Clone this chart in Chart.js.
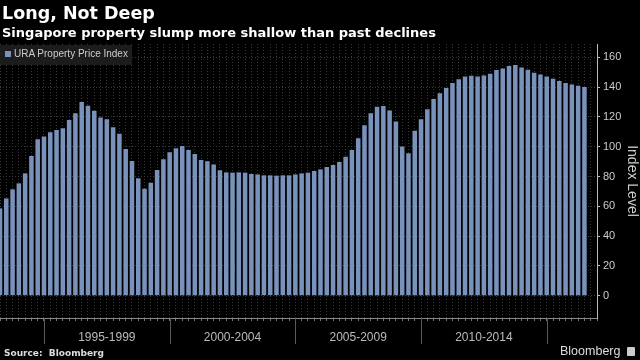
<!DOCTYPE html>
<html>
<head>
<meta charset="utf-8">
<script src="https://cdn.jsdelivr.net/npm/chart.js@4/dist/chart.umd.min.js"></script>
<style>
  body { margin: 0; background: #000; }
  #wrap { position: relative; width: 640px; height: 360px; background: #000; overflow: hidden; }
  #wrap canvas { position: absolute; left: 0; top: 0; }
  .txt { position: absolute; white-space: nowrap; color: #fff; }
  #title { left: 2px; top: 4.5px; font: bold 17.5px/17.5px "DejaVu Sans", sans-serif; }
  #subtitle { left: 2px; top: 25.7px; font: bold 13px/13px "DejaVu Sans", sans-serif; }
  #legend { position: absolute; left: 0; top: 45px; width: 132px; height: 20px; background: #1c1c1c; }
  #legend .sw { position: absolute; left: 5px; top: 6px; width: 6px; height: 6px; background: #7892bb; }
  #legend .lab { left: 14px; top: 4.2px; font: 10px/10px "Liberation Sans", sans-serif; color: #ccc; }
  #source { left: 4px; top: 348.5px; font: bold 9px/9px "DejaVu Sans", sans-serif; color: #ddd; }
  #brand { left: 560px; top: 345px; font: 12.5px/12.5px "Liberation Sans", sans-serif; color: #ddd; }
  #brandIcon { position: absolute; left: 627px; top: 347px; width: 8px; height: 9px; background: #ccc; border-radius: 1px; }
</style>
</head>
<body>
<div id="wrap">
  <canvas id="chart" width="640" height="360"></canvas>
  <div class="txt" id="title">Long, Not Deep</div>
  <div class="txt" id="subtitle">Singapore property slump more shallow than past declines</div>
  <div id="legend"><div class="sw"></div><div class="txt lab">URA Property Price Index</div></div>
  <div class="txt" id="source">Source:&nbsp; Bloomberg</div>
  <div class="txt" id="brand">Bloomberg</div>
  <div id="brandIcon"></div>
</div>
<script>
// quarterly URA index, first bar 1993 Q1, last bar 2016 Q2
const ppiValues = [
  58.6, 65.3, 71.4, 75.4, 82.1, 93.8, 105.0, 106.8, 109.7, 111.3,
  112.4, 118.0, 122.5, 130.0, 127.5, 124.1, 119.6, 118.5, 113.1, 108.8,
  98.5, 90.4, 78.8, 71.8, 75.8, 84.4, 91.6, 96.3, 99.0, 100.5,
  97.8, 95.2, 91.1, 90.2, 88.0, 84.2, 82.8, 82.6, 82.8, 82.6,
  81.7, 81.4, 80.8, 80.8, 80.6, 80.8, 80.8, 81.4, 82.1, 82.6,
  83.7, 84.8, 86.4, 87.7, 89.8, 93.3, 97.8, 105.7, 114.5, 122.5,
  126.8, 127.3, 124.3, 116.9, 100.1, 95.6, 110.8, 118.5, 125.2, 132.0,
  136.0, 139.4, 142.8, 145.4, 147.2, 147.7, 147.2, 147.9, 149.0, 151.5,
  152.6, 154.2, 154.9, 153.3, 151.7, 149.7, 148.6, 147.2, 145.6, 144.1,
  142.8, 141.8, 140.9, 140.1
];

const firstYear = 1993
const quarterCount = 96   // axis runs two quarters past the last bar
const quarterLabels = []
for (let i = 0; i < quarterCount; i++) {
  quarterLabels.push((firstYear + Math.floor(i / 4)) + ' Q' + (i % 4 + 1))
}

// year bands under the x axis
const bandEdges = ['1994 Q4', '1999 Q4', '2004 Q4', '2009 Q4', '2014 Q4']
const bandLabels = ['1995-1999', '2000-2004', '2005-2009', '2010-2014']

const yTicks = [0, 20, 40, 60, 80, 100, 120, 140, 160]

const barColor = '#7892bb'

const bandPlugin = {
  id: 'bands',
  afterDraw(chart) {
    const ctx = chart.ctx
    const xs = chart.scales.x
    const bottom = chart.chartArea.bottom
    const px = bandEdges.map(l => xs.getPixelForValue(quarterLabels.indexOf(l)))
    ctx.save()
    ctx.strokeStyle = '#5a5a5a'
    ctx.lineWidth = 1
    px.forEach(x => {
      const xx = Math.round(x) + 0.5
      ctx.beginPath()
      ctx.moveTo(xx, bottom)
      ctx.lineTo(xx, bottom + 26)
      ctx.stroke()
    })
    ctx.fillStyle = '#bbb'
    ctx.font = '12px "Liberation Sans", sans-serif'
    ctx.textAlign = 'center'
    ctx.textBaseline = 'middle'
    bandLabels.forEach((lab, i) => {
      ctx.fillText(lab, (px[i] + px[i + 1]) / 2, bottom + 20)
    })
    ctx.restore()
  }
}

new Chart(document.getElementById('chart'), {
  type: 'bar',
  data: {
    labels: quarterLabels,
    datasets: [{
      label: 'URA Property Price Index',
      data: ppiValues,
      backgroundColor: barColor,
      borderWidth: 0,
      categoryPercentage: 1,
      barPercentage: 0.72
    }]
  },
  options: {
    responsive: false,
    devicePixelRatio: 1,
    animation: false,
    layout: { padding: { top: 44, left: 0, right: 0, bottom: 0 } },
    plugins: {
      legend: { display: false },
      tooltip: { enabled: false }
    },
    scales: {
      x: {
        offset: false,
        grid: {
          offset: false,
          color: '#3a3a3a',
          tickColor: '#777',
          tickLength: 3,
          drawTicks: true
        },
        border: { display: true, color: '#8a8a8a', dash: [1, 2] },
        ticks: { display: false, autoSkip: false },
        afterFit(scale) { scale.height = 42 }
      },
      y: {
        position: 'right',
        min: -15,
        max: 169,
        afterBuildTicks(scale) {
          scale.ticks = yTicks.map(v => ({ value: v }))
        },
        grid: {
          color: '#3a3a3a',
          tickColor: '#bbb',
          tickLength: 3
        },
        border: { display: true, color: '#bbb', dash: [1, 2] },
        ticks: {
          color: '#ccc',
          padding: 3,
          font: { family: '"Liberation Sans", sans-serif', size: 11 }
        },
        title: {
          display: true,
          text: 'Index Level',
          color: '#ccc',
          padding: 0,
          font: { family: '"Liberation Sans", sans-serif', size: 14 }
        },
        afterFit(scale) { scale.width = 43 }
      }
    }
  },
  plugins: [bandPlugin]
})
</script>
</body>
</html>
